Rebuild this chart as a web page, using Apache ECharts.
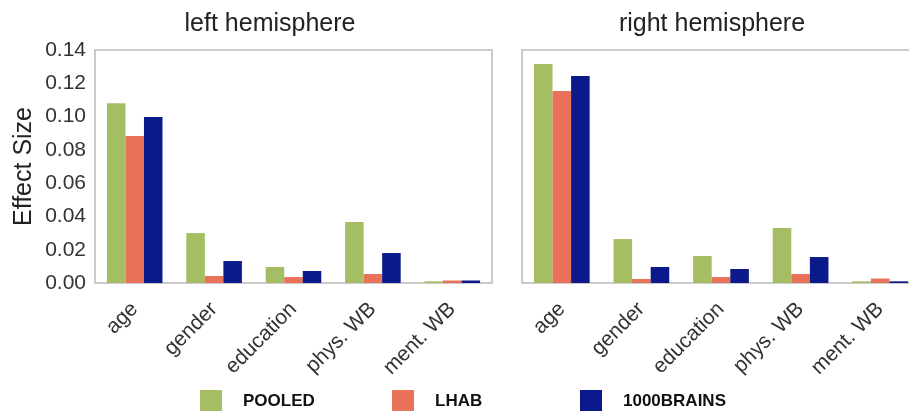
<!DOCTYPE html>
<html><head><meta charset="utf-8">
<script src="https://cdn.jsdelivr.net/npm/echarts@6/dist/echarts.min.js"></script>
<style>html,body{margin:0;padding:0;background:#fff}#c{width:909px;height:411px}</style>
</head><body><div id="c"></div>
<script>
const categories = ['age', 'gender', 'education', 'phys. WB', 'ment. WB'];
const seriesNames = ['POOLED', 'LHAB', '1000BRAINS'];
const leftPooled = [0.108, 0.030, 0.0096, 0.0367, 0.0010];
const leftLHAB = [0.0883, 0.0042, 0.0036, 0.0054, 0.0015];
const leftBrains = [0.0998, 0.0132, 0.0072, 0.018, 0.0015];
const rightPooled = [0.1316, 0.0264, 0.0162, 0.033, 0.0010];
const rightLHAB = [0.1154, 0.0024, 0.0036, 0.0054, 0.0027];
const rightBrains = [0.1244, 0.0096, 0.0084, 0.0156, 0.0010];
const yTicks = ['0.00', '0.02', '0.04', '0.06', '0.08', '0.10', '0.12', '0.14'];
const colors = ['#a5be64', '#e8725a', '#0b1a8a'];

const chart = echarts.init(document.getElementById('c'));
const font = 'Liberation Sans, Arial, sans-serif';
const xAxisBase = {
  type: 'category', data: categories,
  axisLine: { show: false }, axisTick: { show: false },
  axisLabel: { rotate: 45, fontSize: 21, color: '#333', fontFamily: font, margin: 23, interval: 0 }
};
const yAxisBase = {
  type: 'value', min: 0, max: 0.14, interval: 0.02,
  splitLine: { show: false }, axisLine: { show: false }, axisTick: { show: false }
};
function mk(name, data, idx, ci) {
  return { name: name, type: 'bar', data: data, xAxisIndex: idx, yAxisIndex: idx,
    barGap: '0%', barCategoryGap: '30%', itemStyle: { color: colors[ci] } };
}
const legends = [
  { name: seriesNames[0], left: 200 },
  { name: seriesNames[1], left: 392 },
  { name: seriesNames[2], left: 580 }
].map(l => ({
  data: [l.name], left: l.left, top: 390, padding: 0, itemWidth: 22, itemHeight: 22,
  icon: 'rect', selectedMode: false,
  textStyle: { fontSize: 17, fontWeight: 'bold', color: '#111', fontFamily: 'Liberation Sans Narrow, Liberation Sans, Arial', padding: [0, 0, 0, 16] }
}));
chart.setOption({
  animation: false,
  color: colors,
  title: [
    { text: 'left hemisphere', left: 270, top: 12, textAlign: 'center', padding: 0,
      textStyle: { fontSize: 25, fontWeight: 'normal', color: '#222', fontFamily: font } },
    { text: 'right hemisphere', left: 712, top: 12, textAlign: 'center', padding: 0,
      textStyle: { fontSize: 25, fontWeight: 'normal', color: '#222', fontFamily: font } }
  ],
  legend: legends,
  grid: [
    { left: 95, width: 397, top: 50, height: 233, show: true, borderColor: '#bbb', borderWidth: 1.5, backgroundColor: 'transparent', outerBoundsMode: 'none' },
    { left: 522, width: 398, top: 50, height: 233, show: true, borderColor: '#bbb', borderWidth: 1.5, backgroundColor: 'transparent', outerBoundsMode: 'none' }
  ],
  xAxis: [
    Object.assign({ gridIndex: 0 }, xAxisBase),
    Object.assign({ gridIndex: 1 }, xAxisBase)
  ],
  yAxis: [
    Object.assign({ gridIndex: 0, name: 'Effect Size', nameLocation: 'middle', nameGap: 58,
      nameTextStyle: { fontSize: 25, color: '#222', fontFamily: font },
      axisLabel: { fontSize: 21, color: '#333', fontFamily: font, margin: 9,
        formatter: v => yTicks[Math.round(v / 0.02)] } }, yAxisBase),
    Object.assign({ gridIndex: 1, axisLabel: { show: false } }, yAxisBase)
  ],
  series: [
    mk(seriesNames[0], leftPooled, 0, 0),
    mk(seriesNames[1], leftLHAB, 0, 1),
    mk(seriesNames[2], leftBrains, 0, 2),
    mk(seriesNames[0], rightPooled, 1, 0),
    mk(seriesNames[1], rightLHAB, 1, 1),
    mk(seriesNames[2], rightBrains, 1, 2)
  ]
});
</script></body></html>
